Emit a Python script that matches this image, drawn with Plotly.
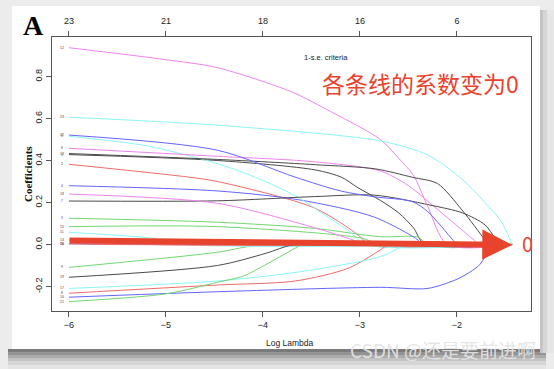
import plotly.graph_objects as go

# ---------------- data ----------------
top_df_vals = [-6, -5, -4, -3, -2]
top_df_text = ["23", "21", "18", "16", "6"]
x_ticks = [-6, -5, -4, -3, -2]
y_ticks = [-0.2, 0.0, 0.2, 0.4, 0.6, 0.8]
y_tick_text = ["-0.2", "0.0", "0.2", "0.4", "0.6", "0.8"]
lambda_end = -1.43

v12_x = [-6, -5, -4.47, -3.7, -3.36, -2.79, -2.6, -2.45, -2.3, -2.1]
v12_y = [0.937, 0.88, 0.842, 0.726, 0.647, 0.50, 0.41, 0.33, 0.18, 0.0]
v23_x = [-6, -4.47, -2.79, -2.3, -1.97, -1.71, -1.54, -1.43]
v23_y = [0.606, 0.568, 0.493, 0.426, 0.32, 0.20, 0.107, 0.0]
v22_x = [-6, -4.47, -3.67, -3.2, -2.85, -2.46, -2.3, -2.04, -2.0]
v22_y = [0.521, 0.449, 0.321, 0.255, 0.227, 0.204, 0.156, 0.02, 0.0]
v5_x = [-6, -5.2, -4.47, -4.13, -3.7, -3.36, -3.1, -2.95]
v5_y = [0.515, 0.47, 0.385, 0.33, 0.24, 0.14, 0.06, 0.0]
v6_x = [-6, -4.47, -3.5, -2.79, -2.5, -2.26, -1.95, -1.81, -1.78]
v6_y = [0.458, 0.42, 0.395, 0.35, 0.28, 0.19, 0.07, 0.015, 0.0]
v13_x = [-6, -4.47, -3.46, -2.84, -2.46, -2.2, -1.95, -1.71, -1.68]
v13_y = [0.433, 0.405, 0.38, 0.36, 0.32, 0.29, 0.165, 0.02, 0.0]
v1_x = [-6, -4.47, -3.46, -3.19, -3.02, -2.79, -2.6, -2.45, -2.33]
v1_y = [0.428, 0.40, 0.355, 0.32, 0.27, 0.21, 0.15, 0.08, 0.0]
v2_x = [-6, -4.75, -4.47, -3.46, -2.98, -2.93]
v2_y = [0.382, 0.32, 0.30, 0.172, 0.03, 0.0]
v4_x = [-6, -4.47, -3.62, -2.85, -2.4, -2.37]
v4_y = [0.28, 0.255, 0.212, 0.13, 0.02, 0.0]
v18_x = [-6, -4.47, -3.47, -3.0, -2.95]
v18_y = [0.24, 0.196, 0.08, 0.01, 0.0]
v7_x = [-6, -4.47, -3.47, -2.85, -2.28, -1.94, -1.71, -1.61, -1.58]
v7_y = [0.207, 0.208, 0.228, 0.235, 0.188, 0.15, 0.093, 0.03, 0.0]
v3_x = [-6, -4.47, -3.47, -2.79, -2.4, -2.3]
v3_y = [0.125, 0.106, 0.077, 0.037, 0.035, 0.0]
v15_x = [-6, -4.47, -2.98, -2.8]
v15_y = [0.085, 0.085, 0.03, 0.0]
v11_x = [-6, -5.15, -4.8]
v11_y = [0.058, 0.03, 0.0]
v14_x = [-6, -5.15]
v14_y = [0.022, 0.0]
v20_x = [-6, -5.6]
v20_y = [0.004, 0.0]
v16_x = [-6, -4.4]
v16_y = [0.003, 0.0]
v9_x = [-6, -4.47, -4.0]
v9_y = [-0.109, -0.037, 0.0]
v19_x = [-6, -4.47, -3.97, -3.67]
v19_y = [-0.156, -0.10, -0.042, 0.0]
v17_x = [-6, -4.47, -3.62, -2.79, -2.5]
v17_y = [-0.209, -0.174, -0.13, -0.058, 0.0]
v8_x = [-6, -4.47, -3.67, -3.12, -2.79, -2.7]
v8_y = [-0.232, -0.193, -0.174, -0.113, -0.026, 0.0]
v10_x = [-6, -4.47, -2.79, -2.3, -1.98, -1.77, -1.62]
v10_y = [-0.251, -0.225, -0.204, -0.209, -0.161, -0.098, 0.0]
v21_x = [-6, -5, -4.47, -4.2, -3.98, -3.64, -3.6]
v21_y = [-0.272, -0.235, -0.18, -0.15, -0.098, -0.01, 0.0]

var_labels = ["1", "2", "3", "4", "5", "6", "7", "8", "9", "10", "11", "12",
              "13", "14", "15", "16", "17", "18", "19", "20", "21", "22", "23"]
paths_x = [v1_x, v2_x, v3_x, v4_x, v5_x, v6_x, v7_x, v8_x, v9_x, v10_x, v11_x, v12_x,
           v13_x, v14_x, v15_x, v16_x, v17_x, v18_x, v19_x, v20_x, v21_x, v22_x, v23_x]
paths_y = [v1_y, v2_y, v3_y, v4_y, v5_y, v6_y, v7_y, v8_y, v9_y, v10_y, v11_y, v12_y,
           v13_y, v14_y, v15_y, v16_y, v17_y, v18_y, v19_y, v20_y, v21_y, v22_y, v23_y]

# R palette 1:6 cycled (black, red, green, blue, cyan, magenta)
palette = ["#4a4a4a", "#f06a6a", "#72d672", "#6464ff", "#8af5f5", "#ee84ee"]

fig = go.Figure()
for i, (xs, ys) in enumerate(zip(paths_x, paths_y)):
    xs = list(xs)
    ys = list(ys)
    if xs[-1] < lambda_end:
        xs.append(lambda_end)
        ys.append(0.0)
    fig.add_trace(go.Scatter(
        x=xs, y=ys, mode="lines",
        line=dict(color=palette[i % 6], width=1, shape="spline", smoothing=0.8),
        hoverinfo="skip", showlegend=False, xaxis="x", yaxis="y"))

# invisible trace for the top axis
fig.add_trace(go.Scatter(x=[top_df_vals[0]], y=[0], mode="markers",
                         marker=dict(opacity=0), xaxis="x2", yaxis="y",
                         showlegend=False, hoverinfo="skip"))

# variable labels at left end (tiny, as in the reference)
for lab, xs, ys in zip(var_labels, paths_x, paths_y):
    fig.add_annotation(x=-6.07, y=ys[0], xref="x", yref="y", text=lab,
                       xanchor="center", yanchor="middle",
                       showarrow=False, font=dict(size=3.5, color="#444",
                       family="Liberation Sans, Arial"))

tick_font = dict(family="Liberation Sans, Arial, sans-serif", size=9, color="#222")
axis_col = "#555"
x_range = [-6.175, -1.237]
y_range = [-0.3167, 0.988]

fig.update_layout(
    template="none",
    width=554, height=369,
    margin=dict(l=52, r=23, t=37, b=58, autoexpand=False),
    paper_bgcolor="#ececec",
    plot_bgcolor="rgba(0,0,0,0)",
    xaxis=dict(range=x_range, tickvals=x_ticks, ticks="outside", ticklen=5,
               tickcolor=axis_col, showline=True, linecolor=axis_col, linewidth=1,
               mirror=True, showgrid=False, zeroline=False, tickfont=tick_font,
               automargin=False),
    xaxis2=dict(range=x_range, overlaying="x", side="top", tickvals=top_df_vals,
                ticktext=top_df_text, ticks="outside", ticklen=5, tickcolor=axis_col,
                showline=False, showgrid=False, zeroline=False, tickfont=tick_font,
                ticklabelstandoff=3, automargin=False),
    yaxis=dict(range=y_range, tickvals=y_ticks, ticktext=y_tick_text, ticks="outside",
               ticklen=5, tickcolor=axis_col, showline=True, linecolor=axis_col,
               linewidth=1, mirror=True, showgrid=False, zeroline=False,
               tickfont=tick_font, tickangle=-90, automargin=False),
    hovermode=False,
)

# window card + shadow
shapes = []
def px2paper_x(px):
    return (px - 52) / 479.0
def px2paper_y(py):
    return (311 - py) / 274.0
shadow_bands = [(349, 352, "#7a7a7a"), (352, 355, "#939393"), (355, 358, "#ababab"),
                (358, 361, "#c2c2c2"), (361, 365, "#d6d6d6"), (365, 369, "#e4e4e4")]
for y0, y1, c in shadow_bands:
    shapes.append(dict(type="rect", xref="paper", yref="paper", layer="below",
                       x0=px2paper_x(8), x1=px2paper_x(546),
                       y0=px2paper_y(y1), y1=px2paper_y(y0),
                       fillcolor=c, line=dict(width=0)))
for x0, x1, c in [(540, 543, "#c4c4c4"), (543, 547, "#d6d6d6"), (547, 554, "#e6e6e6")]:
    shapes.append(dict(type="rect", xref="paper", yref="paper", layer="below",
                       x0=px2paper_x(x0), x1=px2paper_x(x1),
                       y0=px2paper_y(353), y1=px2paper_y(10),
                       fillcolor=c, line=dict(width=0)))
shapes.append(dict(type="rect", xref="paper", yref="paper", layer="below",
                   x0=px2paper_x(12), x1=px2paper_x(540),
                   y0=px2paper_y(349), y1=px2paper_y(6),
                   fillcolor="white", line=dict(width=0)))
fig.update_layout(shapes=shapes)


def add_text(px, py, text, font, angle=0):
    fig.add_annotation(x=px2paper_x(px), y=px2paper_y(py), xref="paper", yref="paper",
                       xanchor="center", yanchor="middle", text=text,
                       showarrow=False, textangle=angle, font=font)


add_text(290, 343, "Log Lambda", dict(family="Liberation Sans, Arial", size=8.5, color="#222"))
add_text(28, 174, "<b>Coefficients</b>",
         dict(family="Liberation Serif, Times New Roman", size=11, color="#111"), angle=-90)
add_text(33, 25, "<b>A</b>", dict(family="Liberation Serif, Times New Roman", size=28, color="#000"))
add_text(326, 57, "1-s.e. criteria", dict(family="Liberation Sans, Arial", size=7.5, color="#222"))
add_text(420, 83, "各条线的系数变为0", dict(family="Noto Sans CJK SC", size=23, color="#e8432d"))
add_text(527, 243, "0", dict(family="Noto Sans CJK SC", size=20, color="#e8432d"))
add_text(443, 349, "CSDN @还是要前进啊",
         dict(family="Noto Sans CJK SC", size=19, color="rgba(228,228,228,0.95)"))

# red arrow
fig.add_annotation(x=lambda_end, y=-0.002, xref="x", yref="y",
                   ax=-6.01, ay=0.019, axref="x", ayref="y", text="",
                   showarrow=True, arrowhead=2, arrowwidth=6, arrowsize=1,
                   arrowcolor="#e8432d", standoff=0)

fig.write_html("out.html",
               config={"displayModeBar": False, "staticPlot": True},
               post_script="document.body.style.margin='0px';"
                           "document.body.style.overflow='hidden';")
